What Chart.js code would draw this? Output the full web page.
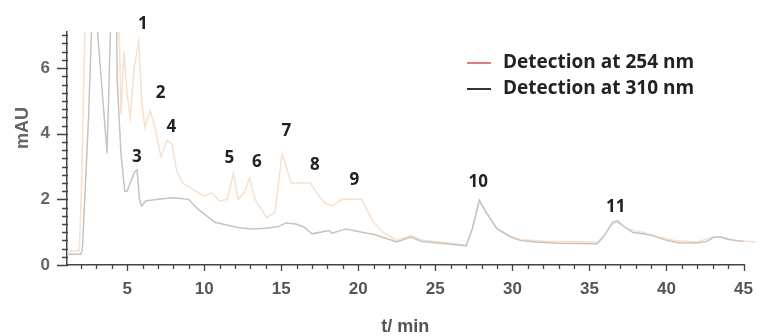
<!DOCTYPE html>
<html lang="en">
<head>
  <meta charset="UTF-8" />
  <title>Chromatogram 254 / 310 nm</title>
  <script src="https://cdn.jsdelivr.net/npm/chart.js"></script>
  <style>
    html, body { margin: 0; padding: 0; background: #fff; }
    #wrap { width: 767px; height: 336px; position: relative; }
  </style>
</head>
<body>
  <div id="wrap"><canvas id="chrom"></canvas></div>

  <script>
    // Detection at 310 nm (black trace, faded in the picture)
    const time310 = [1.1, 2.0, 2.1, 2.5, 2.75, 2.95, 3.1, 3.7, 3.97, 4.3, 4.36, 4.6, 4.85, 5.0, 5.2, 5.5, 5.65, 5.8, 5.95, 6.2, 7.0, 8.0, 9.0, 9.6, 10.7, 12.1, 13.0, 14.0, 14.8, 15.3, 15.95, 16.5, 17.0, 18.1, 18.3, 19.2, 20.0, 21.1, 22.5, 23.4, 24.1, 25.0, 26.0, 27.0, 27.4, 27.85, 28.3, 29.0, 29.9, 30.5, 31.5, 33.0, 35.5, 35.9, 36.5, 36.8, 37.3, 37.8, 38.5, 39.2, 40.0, 40.8, 42.0, 42.6, 43.1, 43.5, 44.0, 45.0, 45.8];
    const abs310  = [0.33, 0.33, 0.5, 4.5, 8.0, 8.0, 7.0, 3.4, 8.0, 8.0, 5.6, 3.4, 2.25, 2.25, 2.5, 2.85, 2.9, 2.0, 1.8, 1.95, 2.0, 2.05, 2.0, 1.7, 1.3, 1.15, 1.1, 1.12, 1.17, 1.28, 1.25, 1.15, 0.95, 1.05, 0.97, 1.1, 1.02, 0.92, 0.7, 0.85, 0.72, 0.68, 0.63, 0.58, 1.1, 1.98, 1.6, 1.1, 0.85, 0.75, 0.7, 0.66, 0.65, 0.85, 1.3, 1.35, 1.15, 1.0, 0.95, 0.88, 0.75, 0.68, 0.67, 0.72, 0.85, 0.85, 0.78, 0.72, 0.67];

    // Detection at 254 nm (red trace, faded in the picture)
    const time254 = [1.1, 1.9, 2.05, 2.3, 4.45, 4.6, 4.8, 5.0, 5.2, 5.45, 5.75, 5.95, 6.15, 6.5, 6.8, 7.2, 7.6, 7.9, 8.2, 8.6, 9.3, 10.0, 10.5, 11.0, 11.5, 11.9, 12.2, 12.6, 12.95, 13.3, 14.05, 14.6, 15.05, 15.65, 16.0, 16.9, 17.3, 17.8, 18.3, 18.95, 19.6, 20.2, 21.0, 21.6, 22.5, 23.4, 24.1, 25.0, 26.0, 27.0, 27.4, 27.85, 28.3, 29.0, 29.9, 30.5, 32.0, 35.5, 35.9, 36.5, 36.8, 37.5, 38.5, 39.5, 40.5, 42.0, 43.0, 43.6, 44.5, 45.8];
    const abs254  = [0.4, 0.45, 2.5, 8.0, 8.0, 4.6, 6.5, 5.2, 4.5, 6.0, 6.8, 5.0, 4.2, 4.7, 4.2, 3.3, 3.8, 3.7, 2.9, 2.5, 2.3, 2.1, 2.2, 1.95, 2.0, 2.8, 2.0, 2.2, 2.65, 2.0, 1.45, 1.6, 3.4, 2.5, 2.5, 2.5, 2.2, 1.9, 1.8, 2.0, 2.0, 2.0, 1.3, 1.0, 0.75, 0.9, 0.76, 0.72, 0.66, 0.61, 1.12, 1.95, 1.6, 1.12, 0.88, 0.78, 0.72, 0.7, 0.86, 1.25, 1.3, 1.1, 1.0, 0.85, 0.75, 0.7, 0.85, 0.85, 0.75, 0.7];

    const seriesLabels = ['Detection at 254 nm', 'Detection at 310 nm'];
    const xTicks = [5, 10, 15, 20, 25, 30, 35, 40, 45];
    const yTicks = [0, 2, 4, 6];

    // numbered peaks
    const peakNames   = ['1', '2', '3', '4', '5', '6', '7', '8', '9', '10', '11'];
    const peakTimes   = [6.02, 7.17, 5.64, 7.87, 11.64, 13.42, 15.34, 17.19, 19.74, 27.78, 36.71];
    const peakHeights = [7.35, 5.24, 3.29, 4.21, 3.26, 3.14, 4.09, 3.05, 2.59, 2.53, 1.77];

    const FONT = '"Open Sans", "DejaVu Sans", sans-serif';
    const AXFONT = '"Liberation Sans", Arial, sans-serif';

    const toXY = (xs, ys) => xs.map((x, i) => ({ x: x, y: ys[i] }));

    // minor + major tick marks on both axes, plus the rotated y title
    const tickMarks = {
      id: 'tickMarks',
      afterDraw(chart) {
        const { ctx, scales: { x, y }, chartArea: a } = chart;
        ctx.save();
        ctx.strokeStyle = '#444';
        ctx.lineWidth = 1.3;
        ctx.beginPath();
        for (let t = 2; t <= 45; t++) {
          const px = Math.round(x.getPixelForValue(t)) + 0.5;
          const len = t % 5 === 0 ? 6 : 4;
          ctx.moveTo(px, a.bottom - 1);
          ctx.lineTo(px, a.bottom + len);
        }
        for (let v = 0; v <= 7; v += 0.25) {
          const py = Math.round(y.getPixelForValue(v)) + 0.5;
          const len = v % 2 === 0 ? 10 : 5;
          ctx.moveTo(a.left + 1, py);
          ctx.lineTo(a.left - len, py);
        }
        ctx.stroke();

        ctx.translate(23, 128);
        ctx.rotate(-Math.PI / 2);
        ctx.font = 'bold 18px ' + AXFONT;
        ctx.fillStyle = '#666';
        ctx.textAlign = 'center';
        ctx.textBaseline = 'middle';
        ctx.fillText('mAU', 0, 0);
        ctx.restore();
      }
    };

    const peakLabels = {
      id: 'peakLabels',
      afterDatasetsDraw(chart) {
        const { ctx, scales: { x, y } } = chart;
        ctx.save();
        ctx.font = 'bold 17px ' + FONT;
        ctx.fillStyle = '#222';
        ctx.textAlign = 'center';
        ctx.textBaseline = 'middle';
        peakNames.forEach((n, i) => {
          ctx.fillText(n, x.getPixelForValue(peakTimes[i]), y.getPixelForValue(peakHeights[i]));
        });
        ctx.restore();
      }
    };

    const legendBox = {
      id: 'legendBox',
      afterDraw(chart) {
        const { ctx } = chart;
        const colors = ['#e47b7b', '#333'];
        ctx.save();
        ctx.font = 'bold 19px ' + FONT;
        ctx.textBaseline = 'middle';
        ctx.fillStyle = '#222';
        seriesLabels.forEach((lbl, i) => {
          const yy = 63 + i * 26;
          ctx.strokeStyle = colors[i];
          ctx.lineWidth = 2;
          ctx.beginPath();
          ctx.moveTo(467, yy);
          ctx.lineTo(491, yy);
          ctx.stroke();
          ctx.fillText(lbl, 503, yy);
        });
        ctx.restore();
      }
    };

    new Chart(document.getElementById('chrom'), {
      type: 'scatter',
      data: {
        datasets: [
          {
            label: seriesLabels[1],
            data: toXY(time310, abs310),
            showLine: true,
            borderColor: '#c4c4c4',
            borderWidth: 1.5,
            pointRadius: 0,
            order: 0,
            clip: { left: 0, top: 0, right: 12, bottom: 0 }
          },
          {
            label: seriesLabels[0],
            data: toXY(time254, abs254),
            showLine: true,
            borderColor: '#f9e0cc',
            borderWidth: 1.5,
            pointRadius: 0,
            order: 1,
            clip: { left: 0, top: 0, right: 12, bottom: 0 }
          }
        ]
      },
      options: {
        responsive: true,
        maintainAspectRatio: false,
        animation: false,
        layout: { padding: { top: 32, right: 12, left: 0, bottom: 0 } },
        plugins: {
          legend: { display: false },
          tooltip: { enabled: false }
        },
        scales: {
          x: {
            type: 'linear',
            min: 1.1,
            max: 45,
            afterBuildTicks: s => { s.ticks = xTicks.map(v => ({ value: v })); },
            afterFit: s => { s.height = 71; },
            ticks: {
              color: '#555',
              font: { family: AXFONT, size: 17, weight: 'bold' },
              padding: 14,
              maxRotation: 0
            },
            grid: { drawOnChartArea: false, drawTicks: false },
            border: { color: '#444', width: 1.5 },
            title: {
              display: true,
              text: 't/ min',
              color: '#555',
              font: { family: AXFONT, size: 18, weight: 'bold', lineHeight: 1 },
              padding: { top: 0, bottom: 0 }
            }
          },
          y: {
            min: 0,
            max: 7.1,
            afterBuildTicks: s => { s.ticks = yTicks.map(v => ({ value: v })); },
            afterFit: s => { s.width = 67; },
            ticks: {
              color: '#666',
              font: { family: AXFONT, size: 17, weight: 'bold' },
              padding: 17
            },
            grid: { drawOnChartArea: false, drawTicks: false },
            border: { color: '#444', width: 1.5 }
          }
        }
      },
      plugins: [tickMarks, peakLabels, legendBox]
    });
  </script>
</body>
</html>
